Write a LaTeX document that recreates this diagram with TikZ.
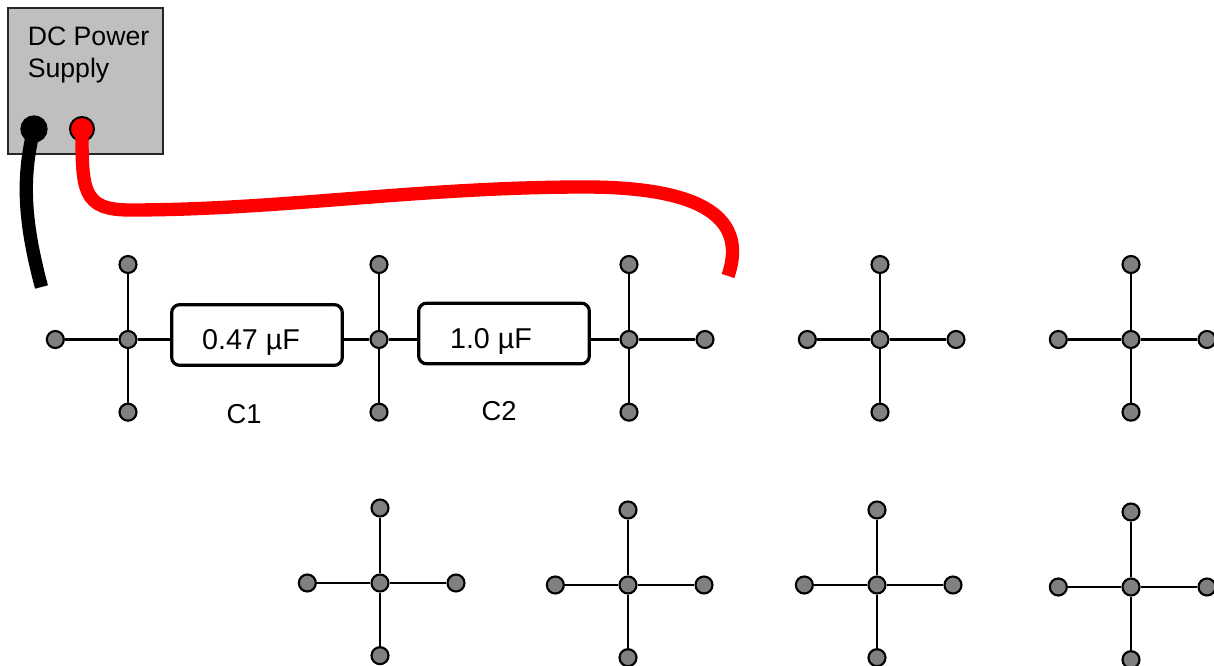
\documentclass[tikz,border=0pt]{standalone}
\usepackage{fontspec}
\setmainfont{Liberation Sans}
\usetikzlibrary{positioning}
\tikzset{
	post/.style={circle,draw=black,line width=1.6pt,fill=black!50,minimum size=12.75pt,inner sep=0pt},
	capbox/.style={draw=black,line width=2.4pt,rounded corners=6pt,fill=white,minimum width=128pt,minimum height=45.5pt,inner sep=0pt},
	lbl/.style={font=\fontsize{20.5}{24}\selectfont,inner sep=0pt},
	val/.style={font=\fontsize{21.5}{24}\selectfont,inner sep=0pt},
	wire/.style={line width=10pt}
}
\begin{document}
\begin{tikzpicture}[x=0.75pt,y=-0.75pt,line width=1.9pt]
	\useasboundingbox (0,0) rectangle (1214,666);
	% power supply
	\node[draw=black!85,line width=1.5pt,fill=black!25,minimum width=116pt,minimum height=109.5pt,inner sep=0pt] (PS) at (85.5,81) {};
	\node[inner sep=0pt,align=left,anchor=north west,font=\fontsize{20}{24}\selectfont] (PSL) at (26.5,26) {DC Power\\Supply};
	\node[circle,draw=black,line width=1.5pt,fill=black,minimum size=19pt,inner sep=0pt] (PB) at (34,129) {};
	\node[circle,draw=black,line width=1.5pt,fill=red,minimum size=18pt,inner sep=0pt]   (PR) at (82,129) {};
	% crosses
	\foreach \n/\x/\y in {H1/128/339.5,H2/379/339.5,H3/629/339.5,H4/880/339.5,H5/1131/339.5,
		H6/380/583,H7/628/585,H8/877/585,H9/1131/587}{
		\node[post] (\n) at (\x,\y) {};
		\node[post] (\n T)[above of=\n,node distance=56.25pt] {};
		\node[post] (\n B)[below of=\n,node distance=54.5pt] {};
		\path (\n) edge (\n T) (\n) edge (\n B);
	}
	\foreach \n in {H1,H4,H5,H6,H7,H8,H9}{
		\node[post] (\n L)[left of=\n,node distance=54.5pt] {};
		\path (\n) edge (\n L);
	}
	\foreach \n in {H3,H4,H5,H6,H7,H8,H9}{
		\node[post] (\n R)[right of=\n,node distance=57pt] {};
		\path (\n) edge (\n R);
	}
	% capacitors
	\node[capbox] (C1) at (257,335) {};
	\node[capbox] (C2) at (504,333.5) {};
	\node[val] (C1V) at (251,342) {0.47 µF};
	\node[val] (C2V) at (491,341) {1.0 µF};
	\node[lbl] (C1L) at (244,414) {C1};
	\node[lbl] (C2L) at (499,411) {C2};
	\draw (H1) -- (H1 -| C1.west);
	\draw (H2) -- (H2 -| C1.east);
	\draw (H2) -- (H2 -| C2.west);
	\draw (H3) -- (H3 -| C2.east);
	% leads
	\coordinate (BE) at (41.5,287);
	\coordinate (RE) at (728,276);
	\draw[wire,black] (PB.center) .. controls (21,180) and (25,225) .. (BE);
	\draw[wire,red] (PR.center) .. controls (82,190) and (82,210) .. (130,210)
		.. controls (280,210) and (420,187) .. (585,187)
		.. controls (690,187) and (750,212) .. (RE);
\end{tikzpicture}
\end{document}
